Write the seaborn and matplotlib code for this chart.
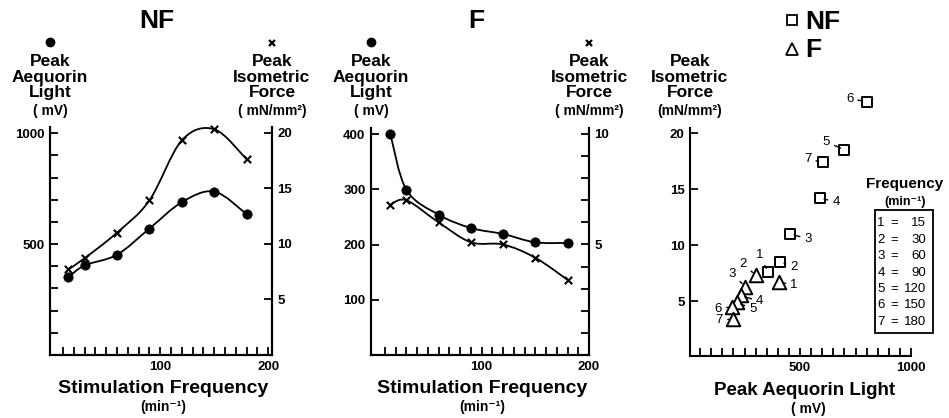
import numpy as np
import pandas as pd
import seaborn as sns
import matplotlib.pyplot as plt
import matplotlib.transforms as mtransforms
from matplotlib.path import Path
from matplotlib.patches import PathPatch, Rectangle
from matplotlib.ticker import FixedLocator

# stimulation frequency (min-1)
freq = [15, 30, 60, 90, 120, 150, 180]

# NF: peak aequorin light (mV) and peak isometric force (mN/mm2)
nf_light = [350, 404, 452, 570, 689, 737, 635]
nf_force = [7.7, 8.7, 11.0, 13.9, 19.3, 20.3, 17.6]

# F
f_light = [400, 299, 254, 230, 219, 204, 203]
f_force = [6.8, 7.0, 6.0, 5.1, 5.0, 4.4, 3.4]

# force vs light panel, points numbered 1..7 by frequency
keys = [1, 2, 3, 4, 5, 6, 7]
sc_nf_light = [357, 410, 455, 590, 700, 800, 602]
sc_nf_force = [7.6, 8.5, 11.0, 14.2, 18.5, 22.8, 17.4]
sc_f_light = [405, 302, 252, 233, 215, 195, 200]
sc_f_force = [6.7, 7.3, 6.3, 5.5, 4.9, 4.5, 3.4]

W, H = 949, 418
FAM = ["Liberation Sans", "DejaVu Sans"]

sns.set_theme(style="ticks")
plt.rcParams["font.family"] = FAM
plt.rcParams["font.weight"] = "bold"
plt.rcParams["axes.linewidth"] = 1.5
for k in ("text.color", "axes.labelcolor", "axes.edgecolor",
          "xtick.color", "ytick.color"):
    plt.rcParams[k] = "black"

fig = plt.figure(figsize=(W / 100, H / 100), dpi=100)


def box(l, t, r, b):
    # axes rectangle from pixel edges
    return [l / W, (H - b) / H, (r - l) / W, (b - t) / H]


def ftxt(x, y, s, **kw):
    kw.setdefault("ha", "center")
    kw.setdefault("va", "baseline")
    kw.setdefault("fontweight", "bold")
    fig.text(x / W, 1 - y / H, s, **kw)


def smooth(ax, x, y):
    # catmull-rom curve through the points, drawn as bezier path
    pts = np.column_stack([x, y]).astype(float)
    ext = np.vstack([pts[0], pts, pts[-1]])
    verts, codes = [pts[0]], [Path.MOVETO]
    for i in range(1, len(ext) - 2):
        p0, p1, p2, p3 = ext[i - 1], ext[i], ext[i + 1], ext[i + 2]
        verts += [p1 + (p2 - p0) / 6, p2 - (p3 - p1) / 6, p2]
        codes += [Path.CURVE4] * 3
    ax.add_patch(PathPatch(Path(verts, codes), fill=False, lw=1.3,
                           color="black", zorder=2))


def style(ax, right=False):
    sns.despine(ax=ax, top=True, right=not right)
    ax.tick_params(which="both", direction="in", length=6, width=1.3,
                   labelsize=9.5, pad=4, color="black")
    ax.set_xlabel("")
    ax.set_ylabel("")
    ax.set_facecolor("white")


def bold_ticks(*axes):
    for a in axes:
        for lab in a.get_xticklabels() + a.get_yticklabels():
            lab.set_fontweight("bold")


def header(ax, xa, mark, words, unit):
    tr = mtransforms.blended_transform_factory(ax.transAxes, fig.transFigure)
    if mark == "o":
        ax.plot([xa], [1 - 42 / H], "o", ms=6, color="black",
                transform=tr, clip_on=False)
    elif mark == "x":
        ax.plot([xa], [1 - 42.5 / H], "x", ms=4.5, mew=1.6, color="black",
                transform=tr, clip_on=False)
    # three stacked words as one block, baseline of last line at y=97
    ax.text(xa, 1 - 97 / H, words, transform=tr, ha="center", va="baseline",
            fontsize=12.5, fontweight="bold", linespacing=1.03,
            multialignment="center")
    ax.text(xa, 1 - 114.5 / H, unit, transform=tr, ha="center",
            va="baseline", fontsize=10, fontweight="bold")


def time_panel(rect, light, force, xlim, ylim1, ylim2, title, title_x):
    ax = fig.add_axes(rect)
    ax2 = ax.twinx()
    smooth(ax, freq, light)
    smooth(ax2, freq, force)
    sns.scatterplot(x=freq, y=light, ax=ax, color="black", s=45, marker="o",
                    edgecolor="black", zorder=3, clip_on=False)
    sns.scatterplot(x=freq, y=force, ax=ax2, color="black", s=28, marker="x",
                    linewidth=1.5, zorder=3, clip_on=False)
    ax.set_xlim(*xlim)
    ax.set_ylim(*ylim1)
    ax2.set_ylim(*ylim2)
    ax.xaxis.set_major_locator(FixedLocator([100, 200]))
    ax.xaxis.set_minor_locator(FixedLocator(range(10, 201, 10)))
    style(ax)
    style(ax2, right=True)
    ax2.spines["left"].set_visible(True)
    ax.spines["right"].set_visible(True)
    ftxt(title_x, 28, title, fontsize=19)
    header(ax, 0, "o", "Peak\nAequorin\nLight", "( mV)")
    header(ax, 1, "x", "Peak\nIsometric\nForce", "( mN/mm²)")
    cxp = (rect[0] + rect[2] / 2) * W + 2
    ftxt(cxp, 393, "Stimulation Frequency", fontsize=14)
    ftxt(cxp, 411, "(min⁻¹)", fontsize=10)
    return ax, ax2


# NF panel
ax, ax2 = time_panel(box(50, 127, 272, 355), nf_light, nf_force,
                     (-2, 203.5), (0, 1028), (0, 20.5), "NF", 157)
ax.yaxis.set_major_locator(FixedLocator([500, 1000]))
ax.yaxis.set_minor_locator(FixedLocator(range(100, 1001, 100)))
ax2.yaxis.set_major_locator(FixedLocator([5, 10, 15, 20]))
bold_ticks(ax, ax2)

# F panel
bx, bx2 = time_panel(box(371, 128, 589, 355), f_light, f_force,
                     (-3, 200), (0, 411), (0, 10.27), "F", 476)
bx.yaxis.set_major_locator(FixedLocator([100, 200, 300, 400]))
bx2.yaxis.set_major_locator(FixedLocator([5, 10]))
bx2.yaxis.set_minor_locator(FixedLocator(range(1, 11)))
bold_ticks(bx, bx2)

# force vs light panel
cx = fig.add_axes(box(690, 128, 911, 356))
sns.scatterplot(x=sc_nf_light, y=sc_nf_force, ax=cx, marker="s", s=60,
                color="white", edgecolor="black", linewidth=1.4, zorder=3,
                clip_on=False)
sns.scatterplot(x=sc_f_light, y=sc_f_force, ax=cx, marker="^", s=95,
                color="white", edgecolor="black", linewidth=1.4, zorder=3,
                clip_on=False)
cx.set_xlim(4, 1000)
cx.set_ylim(0.1, 20.45)
cx.xaxis.set_major_locator(FixedLocator([500, 1000]))
cx.xaxis.set_minor_locator(FixedLocator(range(50, 1001, 50)))
cx.yaxis.set_major_locator(FixedLocator([5, 10, 15, 20]))
style(cx)
bold_ticks(cx)

# label offsets in pixels (dx right, dy down)
nf_off = [(-9, -17), (14, 5), (18, 5), (16, 4), (-18, -8), (-17, -3), (-15, -3)]
f_off = [(15, 3), (-13, -11), (-13, -13), (19, 6), (16, 7), (-14, 2), (-14, 1)]
for xs, ys, offs in ((sc_nf_light, sc_nf_force, nf_off),
                     (sc_f_light, sc_f_force, f_off)):
    for k, xv, yv, (dx, dy) in zip(keys, xs, ys, offs):
        cx.annotate(str(k), (xv, yv), xytext=(dx, -dy),
                    textcoords="offset pixels", ha="center", va="center",
                    fontsize=9.5, fontweight="normal", annotation_clip=False,
                    arrowprops=dict(arrowstyle="-", lw=1.0, color="black",
                                    shrinkA=1, shrinkB=3))

header(cx, 0, None, "Peak\nIsometric\nForce", "(mN/mm²)")
ftxt(805, 395, "Peak Aequorin Light", fontsize=13.5)
ftxt(808, 413, "( mV)", fontsize=10)

# top legend
cx.plot([791.7 / W], [1 - 20 / H], "s", ms=7, mfc="white", mec="black", mew=1.3,
        transform=fig.transFigure, clip_on=False)
cx.plot([791.7 / W], [1 - 49 / H], "^", ms=9, mfc="white", mec="black", mew=1.3,
        transform=fig.transFigure, clip_on=False)
ftxt(805, 29, "NF", fontsize=19, ha="left")
ftxt(805, 57, "F", fontsize=19, ha="left")

# frequency key
ftxt(905, 188.5, "Frequency", fontsize=11)
ftxt(905, 205, "(min⁻¹)", fontsize=9)
fig.patches.append(Rectangle((875 / W, 1 - 333 / H), 58 / W, 123 / H,
                             transform=fig.transFigure, fill=False,
                             lw=1.3, edgecolor="black"))
for i, (k, f) in enumerate(zip(keys, freq)):
    yb = 226.5 + i * 16.4
    ftxt(881, yb, str(k), fontsize=9.5, fontweight="normal")
    ftxt(894, yb, "=", fontsize=9.5, fontweight="normal")
    ftxt(926, yb, str(f), fontsize=9.5, fontweight="normal", ha="right")

fig.savefig("out.png", dpi=100, facecolor="white")
